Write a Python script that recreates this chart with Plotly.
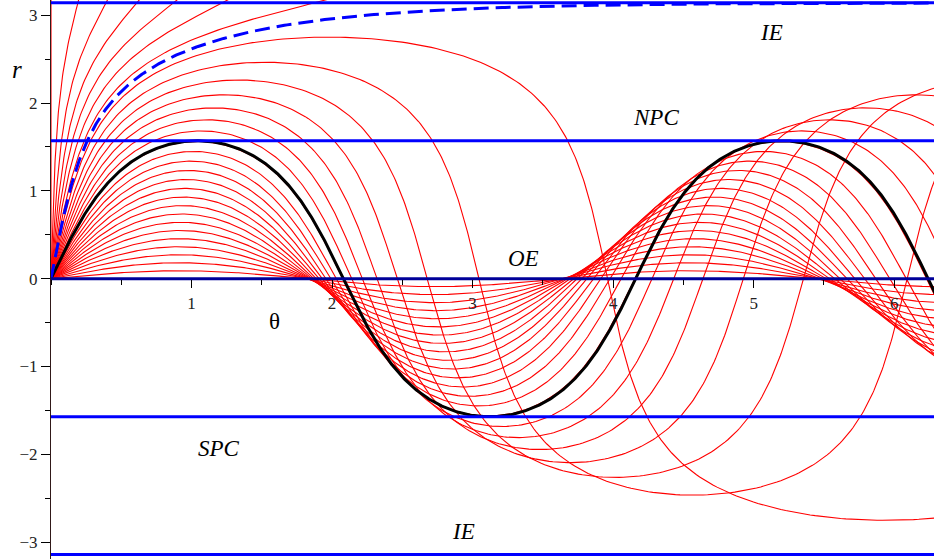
"""
Geodesics on a torus (R=2, a=1) launched from the outer equator,
poloidal angle r against toroidal angle theta.
"""

import numpy as np
import plotly.graph_objects as go

# ── data ───────────────────────────────────────────────────────────
# launch angles (deg, against the outer equator) of the red family
LAUNCH_DEG = [3, 6, 9, 12, 15, 18, 21, 24, 27, 30,
              33, 36, 39, 42, 45, 48, 51, 54, 57, 60,
              63, 66, 69, 72, 75, 78, 81, 84, 87, 90]
# Clairaut constants of the two special geodesics
H_BLACK = 2.0      # just touches the polar caps
H_DASH = 1.0       # creeps up to the inner equator
# region boundaries (IE, NPC, OE, SPC, IE)
LEVELS = [np.pi, np.pi / 2, 0.0, -np.pi / 2, -np.pi]
X_TICKS = [1, 2, 3, 4, 5, 6]
Y_TICKS = [-3, -2, -1, 0, 1, 2, 3]

R_MAJ, A_MIN = 2.0, 1.0
RHO0 = R_MAJ + A_MIN
TWO_PI = 2 * np.pi


def rhs(s):
    th, ph, dth, dph = s
    rho = R_MAJ + A_MIN * np.cos(ph)
    return np.array([
        dth,
        dph,
        2 * A_MIN * np.sin(ph) / rho * dth * dph,
        -rho * np.sin(ph) / A_MIN * dth ** 2,
    ])


def geodesic(alpha, ds=0.01, every=4):
    s = np.array([0.0, 0.0, np.cos(alpha) / RHO0, np.sin(alpha) / A_MIN])
    xs, ys = [0.0], [0.0]
    k = 0
    while s[0] < TWO_PI + 0.02 and abs(s[1]) < 3.4 and k < 20000:
        k1 = rhs(s)
        k2 = rhs(s + ds / 2 * k1)
        k3 = rhs(s + ds / 2 * k2)
        k4 = rhs(s + ds * k3)
        s = s + ds / 6 * (k1 + 2 * k2 + 2 * k3 + k4)
        k += 1
        if k % every == 0:
            xs.append(s[0]); ys.append(s[1])
    xs.append(s[0]); ys.append(s[1])
    return xs, ys


fig = go.Figure()

for deg in LAUNCH_DEG:
    x, y = geodesic(np.radians(deg))
    fig.add_trace(go.Scatter(x=x, y=y, mode="lines",
                             line=dict(color="#ff0000", width=1.1),
                             hoverinfo="skip"))

x, y = geodesic(np.arccos(H_BLACK / RHO0), ds=0.005)
fig.add_trace(go.Scatter(x=x, y=y, mode="lines",
                         line=dict(color="black", width=3)))

x, y = geodesic(np.arccos(H_DASH / RHO0), ds=0.005)
fig.add_trace(go.Scatter(x=x, y=y, mode="lines",
                         line=dict(color="#0000ff", width=3, dash="15px,7px")))

for lv in LEVELS:
    fig.add_trace(go.Scatter(x=[0, TWO_PI], y=[lv, lv], mode="lines",
                             line=dict(color="#000099" if lv == 0 else "#0000ff",
                                       width=3),
                             hoverinfo="skip"))

# region names and axis names
serif = "Liberation Serif, Times New Roman, serif"
notes = [
    ("IE", 5.126, 2.80), ("NPC", 4.305, 1.84), ("OE", 3.362, 0.235),
    ("SPC", 1.195, -1.935), ("IE", 2.935, -2.875),
]
for txt, xx, yy in notes:
    fig.add_annotation(x=xx, y=yy, text=f"<i>{txt}</i>", showarrow=False,
                       font=dict(family=serif, size=23, color="black"))
fig.add_annotation(x=1.587, y=-0.49, text="θ", showarrow=False,
                   font=dict(family=serif, size=23, color="black"))
# axis name sits left of the plot area, so place it in paper units
fig.add_annotation(xref="paper", yref="paper", x=-0.046, y=0.903,
                   text="<i>r</i>", showarrow=False,
                   font=dict(family=serif, size=25, color="black"))

fig.update_layout(
    width=934, height=559,
    margin=dict(l=51, r=0, t=0, b=0, autoexpand=False),
    paper_bgcolor="white", plot_bgcolor="white",
    showlegend=False,
    xaxis=dict(
        range=[0, TWO_PI], anchor="free", position=0.5014, automargin=False,
        showgrid=False, zeroline=False, showline=False,
        tickvals=X_TICKS, ticks="outside", ticklen=8, tickwidth=1,
        tickcolor="black", ticklabelstandoff=1,
        tickfont=dict(family=serif, size=17, color="#222"),
        minor=dict(dtick=0.5, tick0=0, ticks="outside", ticklen=5,
                   tickcolor="black", showgrid=False),
    ),
    yaxis=dict(
        range=[-3.192, 3.174], automargin=False,
        showgrid=False, zeroline=False, showline=True,
        linecolor="#301818", linewidth=1,
        tickvals=Y_TICKS, ticks="outside", ticklen=9, tickwidth=1,
        tickcolor="black",
        tickfont=dict(family=serif, size=17, color="#222"),
        minor=dict(dtick=0.5, tick0=0, ticks="outside", ticklen=5,
                   tickcolor="black", showgrid=False),
    ),
)

# the page's default 8px body margin would shift the whole chart
fig.write_html("out.html", config={"displayModeBar": False},
               post_script="document.body.style.margin='0px';")
